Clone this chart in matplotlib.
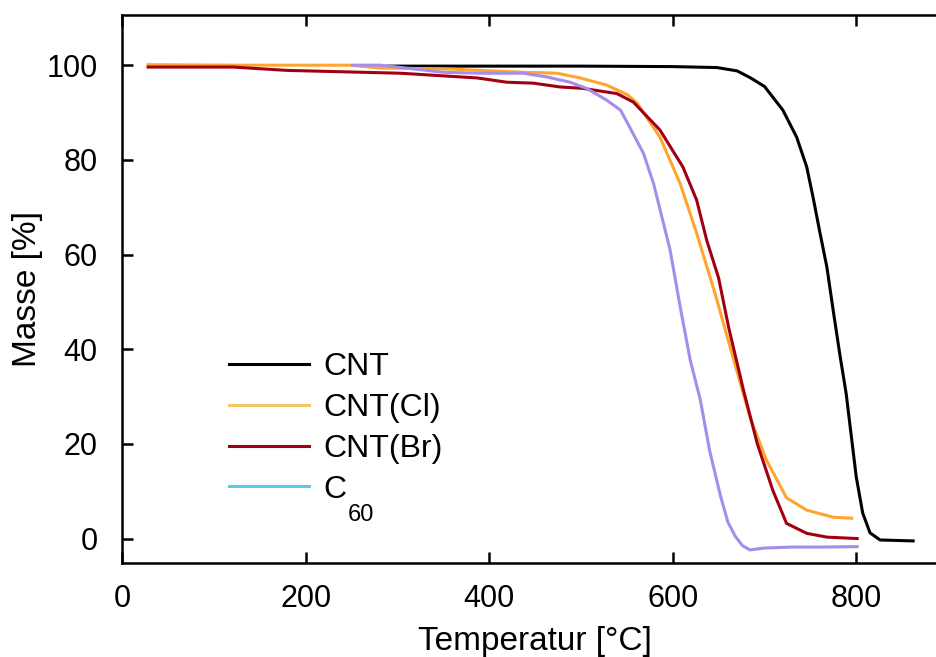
import matplotlib
matplotlib.use("Agg")
import matplotlib.pyplot as plt
from matplotlib.lines import Line2D

plt.rcParams['font.family'] = ['Liberation Sans', 'DejaVu Sans']

# ---- data ----
cnt_T = [290, 400, 500, 600, 648, 670, 684, 700, 706, 720, 735, 746, 753, 760,
         768, 775, 782, 789, 795, 800, 807, 815, 826, 862]
cnt_m = [99.8, 99.8, 99.8, 99.7, 99.5, 98.8, 97.4, 95.5, 94.0, 90.5, 84.8, 78.5,
         72.0, 65.0, 57.3, 48.0, 39.0, 30.6, 21.0, 13.0, 5.4, 1.2, -0.3, -0.5]

cl_T = [28, 120, 248, 281, 354, 437, 474, 499, 528, 551, 561, 586, 608, 626, 646,
        663, 684, 702, 724, 746, 775, 795]
cl_m = [100.1, 100.0, 100.0, 99.4, 99.2, 98.5, 98.3, 97.3, 95.8, 93.7, 92.0, 84.8,
        75.0, 64.5, 51.8, 40.1, 25.7, 16.6, 8.6, 6.0, 4.5, 4.3]

br_T = [28, 121, 179, 303, 387, 419, 448, 477, 502, 539, 557, 586, 611, 626, 637,
        650, 661, 677, 692, 709, 724, 746, 768, 801]
br_m = [99.6, 99.6, 98.9, 98.3, 97.3, 96.4, 96.2, 95.4, 95.1, 94.0, 92.2, 86.3,
        78.5, 71.5, 63.0, 55.0, 44.5, 31.4, 20.1, 10.2, 3.2, 1.1, 0.3, 0.0]

c60_T = [251, 281, 350, 390, 437, 463, 488, 506, 528, 543, 553, 568, 579, 597,
         608, 619, 630, 640, 652, 660, 668, 676, 684, 700, 730, 760, 801]
c60_m = [100.0, 100.0, 98.5, 98.3, 98.3, 97.5, 96.4, 95.1, 92.6, 90.5, 86.9, 81.4,
         75.0, 61.0, 49.0, 37.7, 29.3, 18.7, 9.0, 3.5, 0.5, -1.5, -2.4, -2.0,
         -1.8, -1.8, -1.7]

labels = ['CNT', 'CNT(Cl)', 'CNT(Br)', 'C']
subscript = '60'
line_colors = ['#000000', '#FFA42E', '#A00012', '#A68CEB']
legend_colors = ['#000000', '#F2C764', '#A00012', '#5CC8EE']

xlim = (0, 900)
ylim = (-5.1, 110.6)
xticks = [0, 200, 400, 600, 800]
yticks = [0, 20, 40, 60, 80, 100]

# ---- figure ----
W, H = 937, 657
fig = plt.figure(figsize=(W / 100, H / 100), dpi=100)
left, right, top, bottom = 122.4, 948.0, 15.0, 562.7
ax = fig.add_axes([left / W, (H - bottom) / H, (right - left) / W, (bottom - top) / H])

series = [(cnt_T, cnt_m), (cl_T, cl_m), (br_T, br_m), (c60_T, c60_m)]
for (T, m), c in zip(series, line_colors):
    ax.plot(T, m, color=c, lw=2.2)

ax.set_xlim(*xlim)
ax.set_ylim(*ylim)
ax.set_xticks(xticks)
ax.set_yticks(yticks)
ax.tick_params(direction='in', top=True, right=True, length=8, width=1.8,
               labelsize=22)
ax.tick_params(axis='x', pad=15)
ax.tick_params(axis='y', pad=18)
for s in ax.spines.values():
    s.set_linewidth(1.8)

ax.set_xlabel('Temperatur [°C]', fontsize=24, labelpad=9)
ax.set_ylabel('Masse [%]', fontsize=24, labelpad=2)

handles = [Line2D([], [], color=c, lw=2.2) for c in legend_colors]
leg = ax.legend(handles, labels, loc='upper left', frameon=False,
                bbox_to_anchor=(229 / W, (H - 352) / H), bbox_transform=fig.transFigure,
                borderpad=0, borderaxespad=0, handlelength=2.5, handletextpad=0.45,
                labelspacing=0.34, fontsize=23)

# subscript "60" of C60, placed below-right of the legend's "C"
fig.canvas.draw()
r = fig.canvas.get_renderer()
bb = leg.get_texts()[3].get_window_extent(r)
fig.text((bb.x1 + 1) / W, (bb.y0 + 1) / H, subscript, fontsize=17,
         ha='left', va='top')

fig.savefig('out.png', dpi=100)
